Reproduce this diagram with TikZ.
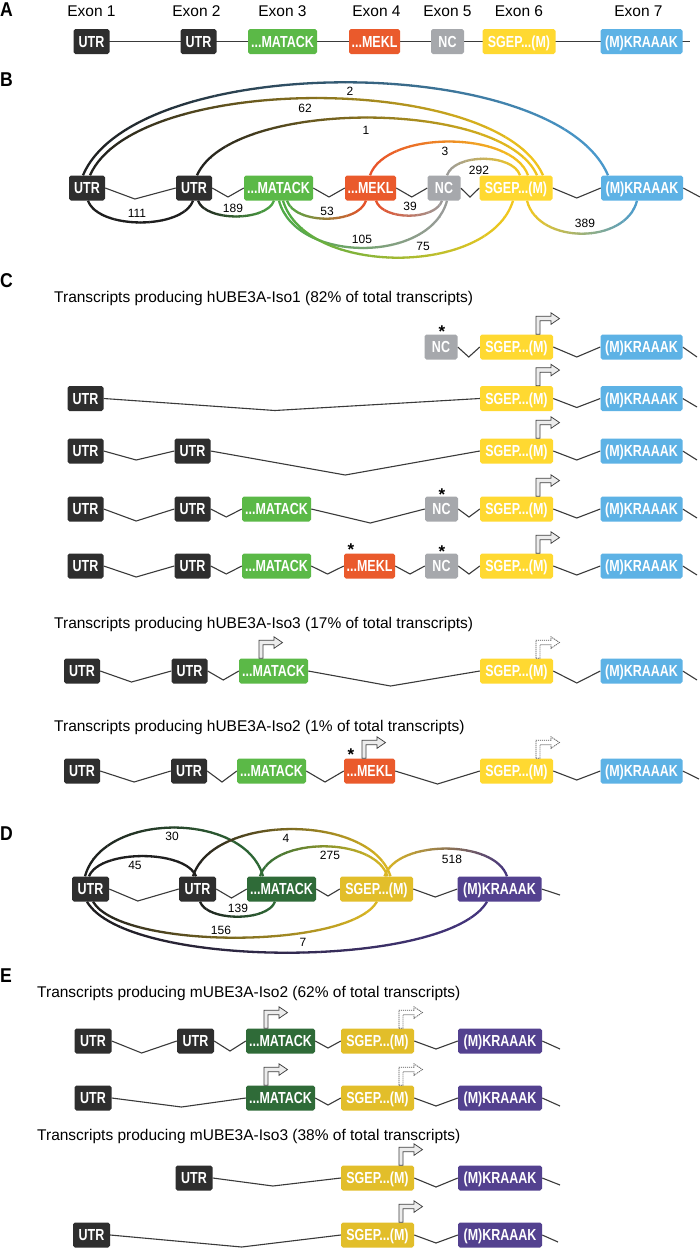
\documentclass[tikz,border=0pt]{standalone}
\usepackage{fontspec}
\setmainfont{Liberation Sans}
\newfontfamily\boxfont[FakeStretch=0.78]{Liberation Sans}
\newfontfamily\panelfont[FakeStretch=0.88]{Liberation Sans}
\usetikzlibrary{calc}
\pgfdeclarelayer{bg}
\pgfsetlayers{bg,main}
\definecolor{cutr}{HTML}{2E2E2E}
\definecolor{cgreen}{HTML}{5BB947}
\definecolor{cmekl}{HTML}{EA5A2C}
\definecolor{cnc}{HTML}{A6A8AC}
\definecolor{csgep}{HTML}{FFD931}
\definecolor{cblue}{HTML}{5DB2E5}
\definecolor{cdgreen}{HTML}{2F6B38}
\definecolor{cmust}{HTML}{E2BE2A}
\definecolor{cpurp}{HTML}{53418F}
\definecolor{cline}{HTML}{3A3A3A}
\definecolor{adark}{HTML}{1E1E1E}
\definecolor{ablue}{HTML}{4A9BCF}
\definecolor{ayel}{HTML}{F4C81E}
\definecolor{aorange}{HTML}{E8502A}
\definecolor{agray}{HTML}{9B9B9B}
\definecolor{agreen}{HTML}{4EAA45}
\definecolor{adgreen}{HTML}{2E6B36}
\definecolor{amust}{HTML}{DDB923}
\definecolor{apurp}{HTML}{45357F}
\newcommand\lnk[4]{\draw[bb] (#1.east) -- ($(#1.east)!#3!(#2.west)+(0,#4)$) -- (#2.west);}
\newcommand\garc[7]{%
  \pgfmathsetmacro\gA{0.1*(#2-#1)}%
  \foreach \k in {0,...,23}{%
    \pgfmathsetmacro\xa{#1+(#2-#1)*\k/24-(\k==0)*8}%
    \pgfmathsetmacro\xb{#1+(#2-#1)*(\k+1)/24+(\k==23)*8+0.4}%
    \pgfmathsetmacro\pc{100*(\k+0.5)/24}%
    \begin{scope}
      \clip (\xa,-10) rectangle (\xb,1260);
      \draw[arcl, draw=#4!\pc!#3] (#5) .. controls +(\gA,#7) and +(-\gA,#7) .. (#6);
    \end{scope}}}
\begin{document}
\begin{tikzpicture}[x=1pt,y=-1pt,
  bb/.style={draw=cline, line width=1.1pt},
  arcl/.style={line width=2.3pt},
  box/.style={rectangle, rounded corners=1.8pt, minimum height=25pt, inner sep=0pt, text=white,
    font=\boxfont\bfseries\fontsize{16}{16}\selectfont, text height=11.4pt, text depth=0pt},
  utr/.style={box, fill=cutr, minimum width=36pt},
  mat/.style={box, fill=cgreen, minimum width=69pt},
  mek/.style={box, fill=cmekl, minimum width=51pt},
  ncb/.style={box, fill=cnc, minimum width=33pt},
  sge/.style={box, fill=csgep, minimum width=73pt},
  kra/.style={box, fill=cblue, minimum width=82pt},
  dutr/.style={box, fill=cutr, minimum width=37pt},
  dmat/.style={box, fill=cdgreen, minimum width=69pt},
  dsge/.style={box, fill=cmust, minimum width=73pt},
  dkra/.style={box, fill=cpurp, minimum width=84pt},
  ttl/.style={font=\fontsize{15.5}{18}\selectfont, inner sep=0pt, anchor=base west},
  exl/.style={font=\fontsize{15.5}{18}\selectfont, inner sep=0pt, anchor=base},
  num/.style={font=\fontsize{12}{12}\selectfont, inner sep=0pt},
  pnl/.style={font=\panelfont\bfseries\fontsize{20}{20}\selectfont, inner sep=0pt, anchor=west},
  ast/.style={font=\bfseries\fontsize{17}{17}\selectfont, inner sep=0pt, anchor=base},
  tss/.pic={\draw[line width=0.75pt, draw=gray!50!black, fill=gray!15, line join=miter]
    (-2,0) -- (-2,-18) -- (13,-18) -- (13,-21.5) -- (21.5,-15.75) -- (13,-10) -- (13,-13.5) -- (2,-13.5) -- (2,0) -- cycle;},
  tssd/.pic={\draw[line width=0.75pt, draw=gray!65!black, fill=white, dash pattern=on 1.2pt off 0.8pt, line join=miter]
    (-2,0) -- (-2,-18) -- (13,-18) -- (13,-21.5) -- (21.5,-15.75) -- (13,-10) -- (13,-13.5) -- (2,-13.5) -- (2,0) -- cycle;}
]
\useasboundingbox (0,0) rectangle (700,1250);
% ---------- panel letters ----------
\node[pnl] (pA) at (0,10) {A};
\node[pnl] (pB) at (0,80) {B};
\node[pnl] (pC) at (0,281) {C};
\node[pnl] (pD) at (0,834) {D};
\node[pnl] (pE) at (0,976) {E};
% ---------- A ----------
\node[utr] (a1) at (91.5,41.5) {UTR};
\node[utr] (a2) at (198.5,41.5) {UTR};
\node[mat] (a3) at (282.5,41.5) {...MATACK};
\node[mek] (a4) at (374.5,41.5) {...MEKL};
\node[ncb] (a5) at (447.5,41.5) {NC};
\node[sge] (a6) at (519,41.5) {SGEP...(M)};
\node[kra] (a7) at (641.5,41.5) {(M)KRAAAK};
\coordinate (aend) at (690,41.5);
\node[exl] (ex1) at ([yshift=12.5pt]a1.north) {Exon 1};
\node[exl] (ex2) at ([yshift=12.5pt,xshift=-2pt]a2.north) {Exon 2};
\node[exl] (ex3) at ([yshift=12.5pt]a3.north) {Exon 3};
\node[exl] (ex4) at ([yshift=12.5pt,xshift=2pt]a4.north) {Exon 4};
\node[exl] (ex5) at ([yshift=12.5pt]a5.north) {Exon 5};
\node[exl] (ex6) at ([yshift=12.5pt]a6.north) {Exon 6};
\node[exl] (ex7) at ([yshift=12.5pt,xshift=-3pt]a7.north) {Exon 7};
% ---------- B ----------
\node[utr] (b1) at (87,188) {UTR};
\node[utr] (b2) at (194,188) {UTR};
\node[mat] (b3) at (278.5,188) {...MATACK};
\node[mek] (b4) at (370.5,188) {...MEKL};
\node[ncb] (b5) at (444,188) {NC};
\node[sge] (b6) at (516,188) {SGEP...(M)};
\node[kra] (b7) at (642,188) {(M)KRAAAK};
\coordinate (bend) at (700,197);
\node[num] (n2) at (350,91) {2};
\node[num] (n62) at (305,108) {62};
\node[num] (n1) at (366,130) {1};
\node[num] (n3) at (445,151) {3};
\node[num] (n292) at (479,170) {292};
\node[num] (n111) at (137,213) {111};
\node[num] (n189) at (233,208) {189};
\node[num] (n53) at (327,211) {53};
\node[num] (n39) at (410,206) {39};
\node[num] (n105) at (362,239) {105};
\node[num] (n75) at (423,246) {75};
\node[num] (n389) at (585,223) {389};
% ---------- C ----------
\node[ttl] (t1) at (54,302) {Transcripts producing hUBE3A-Iso1 (82\% of total transcripts)};
\node[ncb] (c1n) at (441,347) {NC};
\node[sge] (c1s) at (516.5,347) {SGEP...(M)};
\node[kra] (c1k) at (641.5,347) {(M)KRAAAK};
\coordinate (c1end) at (697,357);
\node[ast] (s1) at (442,337) {*};
\node[utr] (c2u) at (85.5,398.5) {UTR};
\node[sge] (c2s) at (516.5,398.5) {SGEP...(M)};
\node[kra] (c2k) at (641.5,398.5) {(M)KRAAAK};
\coordinate (c2end) at (697,407);
\node[utr] (c3u) at (85.5,451) {UTR};
\node[utr] (c3v) at (192.5,451) {UTR};
\node[sge] (c3s) at (516.5,451) {SGEP...(M)};
\node[kra] (c3k) at (641.5,451) {(M)KRAAAK};
\coordinate (c3end) at (697,460);
\node[utr] (c4u) at (85.5,509) {UTR};
\node[utr] (c4v) at (192.5,509) {UTR};
\node[mat] (c4m) at (276.5,509) {...MATACK};
\node[ncb] (c4n) at (441.5,509) {NC};
\node[sge] (c4s) at (516.5,509) {SGEP...(M)};
\node[kra] (c4k) at (641.5,509) {(M)KRAAAK};
\coordinate (c4end) at (697,518);
\node[ast] (s2) at (442,500) {*};
\node[utr] (c5u) at (85.5,566) {UTR};
\node[utr] (c5v) at (192.5,566) {UTR};
\node[mat] (c5m) at (276.5,566) {...MATACK};
\node[mek] (c5l) at (369.5,566) {...MEKL};
\node[ncb] (c5n) at (441.5,566) {NC};
\node[sge] (c5s) at (516.5,566) {SGEP...(M)};
\node[kra] (c5k) at (641.5,566) {(M)KRAAAK};
\coordinate (c5end) at (697,575);
\node[ast] (s3) at (351,555) {*};
\node[ast] (s4) at (442,557) {*};
\node[ttl] (t2) at (54,628) {Transcripts producing hUBE3A-Iso3 (17\% of total transcripts)};
\node[utr] (c6u) at (82,671) {UTR};
\node[utr] (c6v) at (189.5,671) {UTR};
\node[mat] (c6m) at (273.5,671) {...MATACK};
\node[sge] (c6s) at (516.5,671) {SGEP...(M)};
\node[kra] (c6k) at (641.5,671) {(M)KRAAAK};
\coordinate (c6end) at (697,680);
\node[ttl] (t3) at (54,731) {Transcripts producing hUBE3A-Iso2 (1\% of total transcripts)};
\node[utr] (c7u) at (82,771) {UTR};
\node[utr] (c7v) at (189,771) {UTR};
\node[mat] (c7m) at (271.5,771) {...MATACK};
\node[mek] (c7l) at (369.5,771) {...MEKL};
\node[sge] (c7s) at (516.5,771) {SGEP...(M)};
\node[kra] (c7k) at (641.5,771) {(M)KRAAAK};
\coordinate (c7end) at (699,779);
\node[ast] (s5) at (351,760) {*};
% ---------- D ----------
\node[dutr] (du) at (90.5,889) {UTR};
\node[dutr] (dv) at (197.5,889) {UTR};
\node[dmat] (dm) at (281.5,889) {...MATACK};
\node[dsge] (ds) at (376.5,889) {SGEP...(M)};
\node[dkra] (dk) at (499.5,889) {(M)KRAAAK};
\coordinate (dend) at (560,895);
\node[num] (n30) at (172,836) {30};
\node[num] (n45) at (135,865) {45};
\node[num] (n4) at (286,838) {4};
\node[num] (n275) at (330,855) {275};
\node[num] (n518) at (452,859) {518};
\node[num] (n139) at (238,908) {139};
\node[num] (n156) at (221,930) {156};
\node[num] (n7) at (303,942) {7};
% ---------- E ----------
\node[ttl] (t4) at (37,997) {Transcripts producing mUBE3A-Iso2 (62\% of total transcripts)};
\node[dutr] (e1u) at (93,1041) {UTR};
\node[dutr] (e1v) at (195.5,1041) {UTR};
\node[dmat] (e1m) at (280.5,1041) {...MATACK};
\node[dsge] (e1s) at (377.5,1041) {SGEP...(M)};
\node[dkra] (e1k) at (500,1041) {(M)KRAAAK};
\coordinate (e1end) at (560,1049);
\node[dutr] (e2u) at (93,1098) {UTR};
\node[dmat] (e2m) at (280.5,1098) {...MATACK};
\node[dsge] (e2s) at (377.5,1098) {SGEP...(M)};
\node[dkra] (e2k) at (500,1098) {(M)KRAAAK};
\coordinate (e2end) at (560,1106);
\node[ttl] (t5) at (37,1140) {Transcripts producing mUBE3A-Iso3 (38\% of total transcripts)};
\node[dutr] (e3v) at (194,1178) {UTR};
\node[dsge] (e3s) at (377.5,1178) {SGEP...(M)};
\node[dkra] (e3k) at (500,1178) {(M)KRAAAK};
\coordinate (e3end) at (560,1185);
\node[dutr] (e4u) at (91.5,1235) {UTR};
\node[dsge] (e4s) at (377.5,1235) {SGEP...(M)};
\node[dkra] (e4k) at (500,1235) {(M)KRAAAK};
\coordinate (e4end) at (558,1242);
% ---------- TSS arrows ----------
\pic at ([xshift=21.5pt]c1s.north) {tss};
\pic at ([xshift=21.5pt]c2s.north) {tss};
\pic at ([xshift=21.5pt]c3s.north) {tss};
\pic at ([xshift=21.5pt]c4s.north) {tss};
\pic at ([xshift=21.5pt]c5s.north) {tss};
\pic at ([xshift=-12.5pt]c6m.north) {tss};
\pic at ([xshift=21.5pt]c6s.north) {tssd};
\pic at ([xshift=-5.5pt]c7l.north) {tss};
\pic at ([xshift=21.5pt]c7s.north) {tssd};
\pic at ([xshift=-14.5pt]e1m.north) {tss};
\pic at ([xshift=23.5pt]e1s.north) {tssd};
\pic at ([xshift=-14.5pt]e2m.north) {tss};
\pic at ([xshift=23.5pt]e2s.north) {tssd};
\pic at ([xshift=23.5pt]e3s.north) {tss};
\pic at ([xshift=23.5pt]e4s.north) {tss};
% ---------- background layer: lines and arcs ----------
\begin{pgfonlayer}{bg}
\fill[white] (0,0) rectangle (700,1250);
\draw[bb] (a1.center) -- (aend);
\lnk{b1}{b2}{0.42}{11}\lnk{b2}{b3}{0.5}{9}\lnk{b3}{b4}{0.5}{9}\lnk{b4}{b5}{0.5}{9}\lnk{b5}{b6}{0.5}{9}\lnk{b6}{b7}{0.5}{10}
\draw[bb] (b7.east) -- (bend);
\lnk{c1n}{c1s}{0.5}{10}\lnk{c1s}{c1k}{0.5}{10}\draw[bb] (c1k.east) -- (c1end);
\lnk{c2u}{c2s}{0.455}{12}\lnk{c2s}{c2k}{0.5}{9}\draw[bb] (c2k.east) -- (c2end);
\lnk{c3u}{c3v}{0.46}{9}\lnk{c3v}{c3s}{0.5}{24}\lnk{c3s}{c3k}{0.5}{9}\draw[bb] (c3k.east) -- (c3end);
\lnk{c4u}{c4v}{0.46}{12}\lnk{c4v}{c4m}{0.5}{8}\lnk{c4m}{c4n}{0.52}{14}\lnk{c4n}{c4s}{0.5}{8}\lnk{c4s}{c4k}{0.5}{9}\draw[bb] (c4k.east) -- (c4end);
\lnk{c5u}{c5v}{0.46}{11}\lnk{c5v}{c5m}{0.5}{8}\lnk{c5m}{c5l}{0.5}{8}\lnk{c5l}{c5n}{0.5}{8}\lnk{c5n}{c5s}{0.5}{8}\lnk{c5s}{c5k}{0.5}{9}\draw[bb] (c5k.east) -- (c5end);
\lnk{c6u}{c6v}{0.44}{11}\lnk{c6v}{c6m}{0.5}{9}\lnk{c6m}{c6s}{0.48}{15}\lnk{c6s}{c6k}{0.5}{12}\draw[bb] (c6k.east) -- (c6end);
\lnk{c7u}{c7v}{0.48}{11}\lnk{c7v}{c7m}{0.5}{11}\lnk{c7m}{c7l}{0.5}{11}\lnk{c7l}{c7s}{0.5}{13}\lnk{c7s}{c7k}{0.5}{9}\draw[bb] (c7k.east) -- (c7end);
\lnk{du}{dv}{0.41}{12}\lnk{dv}{dm}{0.5}{9}\lnk{dm}{ds}{0.5}{7}\lnk{ds}{dk}{0.5}{8}\draw[bb] (dk.east) -- (dend);
\lnk{e1u}{e1v}{0.46}{12}\lnk{e1v}{e1m}{0.5}{10}\lnk{e1m}{e1s}{0.5}{7}\lnk{e1s}{e1k}{0.5}{8}\draw[bb] (e1k.east) -- (e1end);
\lnk{e2u}{e2m}{0.52}{9}\lnk{e2m}{e2s}{0.5}{7}\lnk{e2s}{e2k}{0.5}{8}\draw[bb] (e2k.east) -- (e2end);
\lnk{e3v}{e3s}{0.47}{8}\lnk{e3s}{e3k}{0.5}{9}\draw[bb] (e3k.east) -- (e3end);
\lnk{e4u}{e4s}{0.57}{12}\lnk{e4s}{e4k}{0.5}{8}\draw[bb] (e4k.east) -- (e4end);
% B arcs
\garc{83}{608}{adark}{ablue}{[xshift=-4pt]b1.north}{[xshift=-34pt]b7.north}{-124}
\garc{90}{543}{adark}{ayel}{[xshift=3pt]b1.north}{[xshift=27pt]b6.north}{-103}
\garc{197}{537}{adark}{ayel}{[xshift=3pt]b2.north}{[xshift=21pt]b6.north}{-77}
\garc{370}{528}{aorange}{ayel}{[xshift=-0.5pt]b4.north}{[xshift=12pt]b6.north}{-45}
\garc{447}{520}{agray}{ayel}{[xshift=3pt]b5.north}{[xshift=4pt]b6.north}{-22}
\garc{88}{193}{adark}{adark}{[xshift=1pt]b1.south}{[xshift=-1pt]b2.south}{29}
\garc{198}{274}{adark}{agreen}{[xshift=4pt]b2.south}{[xshift=-4.5pt]b3.south}{21}
\garc{287}{366}{agreen}{aorange}{[xshift=8.5pt]b3.south}{[xshift=-4.5pt]b4.south}{24}
\garc{376}{442}{aorange}{agray}{[xshift=5.5pt]b4.south}{[xshift=-2pt]b5.south}{20}
\garc{279}{447}{agreen}{agray}{[xshift=0.5pt]b3.south}{[xshift=3pt]b5.south}{63}
\garc{283}{513}{agreen}{ayel}{[xshift=4.5pt]b3.south}{[xshift=-3pt]b6.south}{76}
\garc{527}{637}{ayel}{ablue}{[xshift=11pt]b6.south}{[xshift=-5pt]b7.south}{44}
% D arcs
\garc{85}{263}{adark}{adgreen}{[xshift=-5.5pt]du.north}{[xshift=-18.5pt]dm.north}{-65}
\garc{89}{196}{adark}{adark}{[xshift=-1.5pt]du.north}{[xshift=-1.5pt]dv.north}{-27}
\garc{193}{390.5}{adark}{amust}{[xshift=-4.5pt]dv.north}{[xshift=14pt]ds.north}{-63}
\garc{260}{387.5}{adgreen}{amust}{[xshift=-21.5pt]dm.north}{[xshift=11pt]ds.north}{-40}
\garc{384.5}{507}{amust}{apurp}{[xshift=8pt]ds.north}{[xshift=7.5pt]dk.north}{-37}
\garc{200}{275}{adark}{adgreen}{[xshift=2.5pt]dv.south}{[xshift=-6.5pt]dm.south}{20}
\garc{93}{377}{adark}{amust}{[xshift=2.5pt]du.south}{[xshift=0.5pt]ds.south}{48}
\garc{87}{487}{adark}{apurp}{[xshift=-3.5pt]du.south}{[xshift=-12.5pt]dk.south}{68}
\end{pgfonlayer}
\end{tikzpicture}
\end{document}
